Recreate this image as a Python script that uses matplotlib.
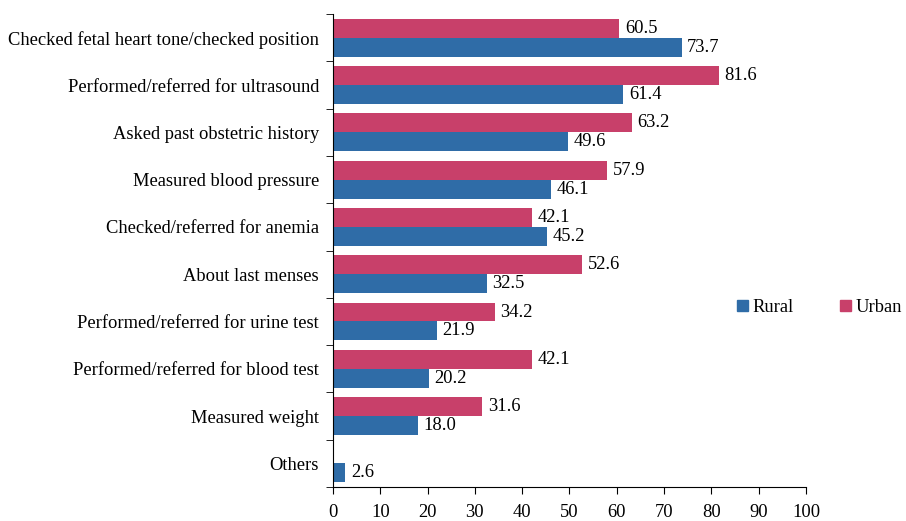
import numpy as np
import matplotlib
matplotlib.use('Agg')
import matplotlib.pyplot as plt
from matplotlib.ticker import MultipleLocator, FixedLocator

plt.rcParams['font.family'] = ['Liberation Serif', 'DejaVu Serif']

categories = ['Checked fetal heart tone/checked position',
              'Performed/referred for ultrasound',
              'Asked past obstetric history',
              'Measured blood pressure',
              'Checked/referred for anemia',
              'About last menses',
              'Performed/referred for urine test',
              'Performed/referred for blood test',
              'Measured weight',
              'Others']
urban = [60.5, 81.6, 63.2, 57.9, 42.1, 52.6, 34.2, 42.1, 31.6, None]
rural = [73.7, 61.4, 49.6, 46.1, 45.2, 32.5, 21.9, 20.2, 18.0, 2.6]

urban_color = '#C8406A'
rural_color = '#2F6CA7'
fs = 13.3

fig = plt.figure(figsize=(9.06, 5.21), dpi=100)
ax = fig.add_axes([0.3675, 0.0653, 0.5221, 0.9077])

n = len(categories)
y = np.arange(n)
h = 0.4

for i in range(n):
    if urban[i] is not None:
        ax.barh(y[i] - h / 2, urban[i], height=h, color=urban_color)
        ax.text(urban[i] + 1.2, y[i] - h / 2, f'{urban[i]:.1f}', va='center', fontsize=fs)
    ax.barh(y[i] + h / 2, rural[i], height=h, color=rural_color)
    ax.text(rural[i] + 1.2, y[i] + h / 2, f'{rural[i]:.1f}', va='center', fontsize=fs)

ax.set_ylim(n - 0.5, -0.5)
ax.set_xlim(0, 100)
ax.xaxis.set_major_locator(MultipleLocator(10))
ax.set_yticks(y)
ax.set_yticklabels(categories, fontsize=fs)
ax.tick_params(axis='y', which='major', length=0, pad=10)
ax.yaxis.set_minor_locator(FixedLocator(np.arange(-0.5, n, 1)))
ax.tick_params(axis='y', which='minor', length=5)
ax.tick_params(axis='x', length=5, labelsize=fs, pad=7)
for s in ['top', 'right']:
    ax.spines[s].set_visible(False)

handles = [plt.Rectangle((0, 0), 1, 1, color=rural_color),
           plt.Rectangle((0, 0), 1, 1, color=urban_color)]
fig.legend(handles, ['Rural', 'Urban'], loc='center left', bbox_to_anchor=(0.813, 0.41),
           ncol=2, frameon=False, fontsize=fs, handlelength=0.6, handleheight=0.6,
           handletextpad=0.25, columnspacing=2.5, borderaxespad=0, borderpad=0)

fig.savefig('out.png', dpi=100)
